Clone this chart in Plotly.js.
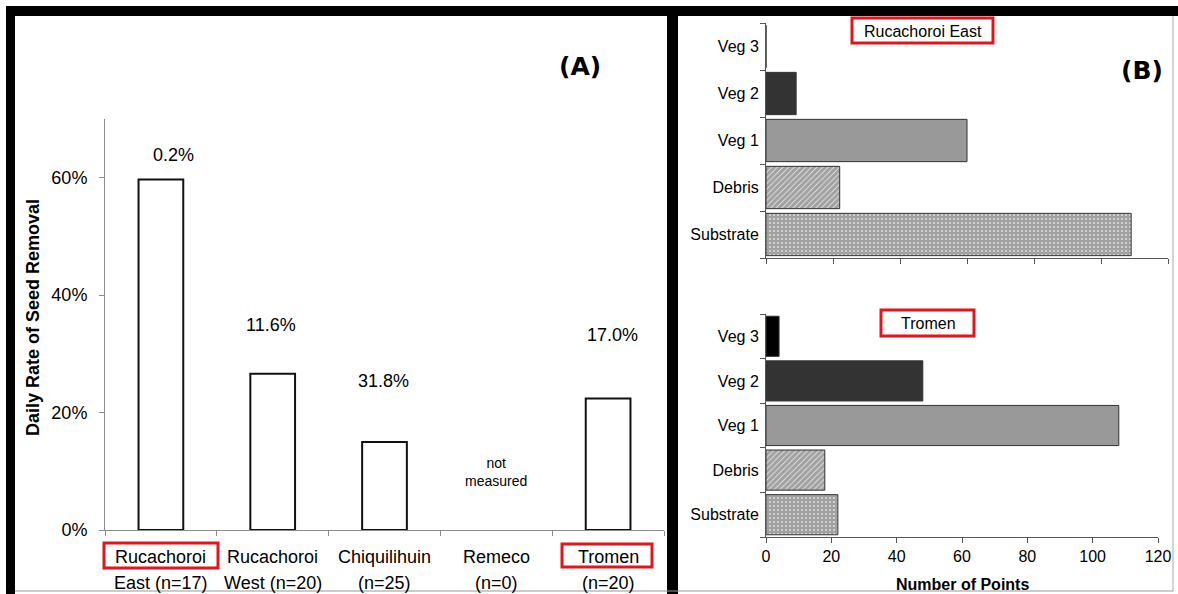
<!DOCTYPE html>
<html>
<head>
<meta charset="utf-8">
<script src="https://cdn.plot.ly/plotly-3.0.1.min.js"></script>
<style>html,body{margin:0;padding:0;background:#fff;}#chart{width:1178px;height:594px;}</style>
</head>
<body>
<div id="chart"></div>
<script>
// ---------- DATA ----------
const siteLine1 = ['Rucachoroi', 'Rucachoroi', 'Chiquilihuin', 'Remeco', 'Tromen'];
const siteLine2 = ['East (n=17)', 'West (n=20)', '(n=25)', '(n=0)', '(n=20)'];
const removalRate = [59.7, 26.6, 15.0, null, 22.4];           // % daily seed removal
const siteNotes = ['0.2%', '11.6%', '31.8%', 'not<br>measured', '17.0%'];
const coverCats = ['Substrate', 'Debris', 'Veg 1', 'Veg 2', 'Veg 3'];
const pointsRucEast = [109, 22, 60, 9, 0];
const pointsTromen = [22, 18, 108, 48, 4];
const yTicksA = [0, 20, 40, 60];
const yTickLabelsA = ['0%', '20%', '40%', '60%'];
const xTicksB = [0, 20, 40, 60, 80, 100, 120];
const panelTitles = ['Rucachoroi East', 'Tromen'];
const panelLetters = ['(A)', '(B)'];

// ---------- LAYOUT HELPERS ----------
const W = 1178, H = 594;
const px = x => x / W;
const py = y => 1 - y / H;
const FONT = 'Liberation Sans, Arial, sans-serif';
const siteCats = siteLine1.map((s, i) => s + ' ' + siteLine2[i]);

// note positions (pixel y) and small horizontal shifts
const notePosY = [155, 325, 381, 472, 335];
const noteShiftX = [13, -2, -1, 0, 4];

const coverColors = ['#ffffff', '#ffffff', '#999999', '#333333', '#000000'];
const coverShapes = ['+', '/', '', '', ''];

const patternB = {shape: coverShapes, fgcolor: '#000000', bgcolor: '#ffffff', size: 4,
  solidity: [0.9, 0.85, 0.3, 0.3, 0.3], fillmode: 'overlay'};

const traces = [
  {
    type: 'bar', x: siteCats, y: removalRate, xaxis: 'x', yaxis: 'y',
    marker: {color: '#ffffff', line: {color: '#111111', width: 2}},
    hoverinfo: 'skip', showlegend: false
  },
  {
    type: 'bar', orientation: 'h', y: coverCats, x: pointsRucEast, xaxis: 'x2', yaxis: 'y2', width: 0.9,
    marker: {color: coverColors, line: {color: '#333333', width: 1}, pattern: patternB},
    hoverinfo: 'skip', showlegend: false
  },
  {
    type: 'bar', orientation: 'h', y: coverCats, x: pointsTromen, xaxis: 'x3', yaxis: 'y3', width: 0.9,
    marker: {color: coverColors, line: {color: '#333333', width: 1}, pattern: patternB},
    hoverinfo: 'skip', showlegend: false
  }
];

const annotations = [];
siteCats.forEach((c, i) => {
  annotations.push({xref: 'x', yref: 'paper', x: c, y: py(557), text: siteLine1[i], showarrow: false,
    font: {family: FONT, size: 18, color: '#000'}, xanchor: 'center', yanchor: 'middle'});
  annotations.push({xref: 'x', yref: 'paper', x: c, y: py(583), text: siteLine2[i], showarrow: false,
    font: {family: FONT, size: 18, color: '#000'}, xanchor: 'center', yanchor: 'middle'});
  const small = siteNotes[i].indexOf('<br>') >= 0;
  annotations.push({xref: 'x', yref: 'paper', x: c, y: py(notePosY[i]), xshift: noteShiftX[i], text: siteNotes[i], showarrow: false,
    font: {family: FONT, size: small ? 14 : 18, color: '#000'}, xanchor: 'center', yanchor: 'middle'});
});
annotations.push({xref: 'paper', yref: 'paper', x: px(33), y: py(318), text: '<b>Daily Rate of Seed Removal</b>', textangle: -90,
  showarrow: false, font: {family: FONT, size: 18, color: '#000'}, xanchor: 'center', yanchor: 'middle'});
annotations.push({xref: 'paper', yref: 'paper', x: px(580), y: py(67), text: '<b>' + panelLetters[0] + '</b>', showarrow: false,
  font: {family: 'DejaVu Sans, sans-serif', size: 25, color: '#000'}, xanchor: 'center', yanchor: 'middle'});
annotations.push({xref: 'paper', yref: 'paper', x: px(1142), y: py(70), text: '<b>' + panelLetters[1] + '</b>', showarrow: false,
  font: {family: 'DejaVu Sans, sans-serif', size: 25, color: '#000'}, xanchor: 'center', yanchor: 'middle'});
annotations.push({xref: 'paper', yref: 'paper', x: px(923), y: py(31), text: panelTitles[0], showarrow: false,
  font: {family: FONT, size: 16, color: '#000'}, xanchor: 'center', yanchor: 'middle'});
annotations.push({xref: 'paper', yref: 'paper', x: px(928), y: py(323), text: panelTitles[1], showarrow: false,
  font: {family: FONT, size: 16, color: '#000'}, xanchor: 'center', yanchor: 'middle'});
annotations.push({xref: 'paper', yref: 'paper', x: px(962), y: py(584), text: '<b>Number of Points</b>', showarrow: false,
  font: {family: FONT, size: 16, color: '#000'}, xanchor: 'center', yanchor: 'middle'});

const rect = (x0, y0, x1, y1, fill, line, lw) => ({type: 'rect', xref: 'paper', yref: 'paper',
  x0: px(x0), x1: px(x1), y0: py(y1), y1: py(y0), fillcolor: fill, line: {color: line, width: lw}, layer: 'above'});
const RED = '#e3141c';
const shapes = [
  rect(6, 6, 1178, 16, '#000', '#000', 0),
  rect(6, 6, 15, 594, '#000', '#000', 0),
  rect(667, 6, 678, 594, '#000', '#000', 0),
  {type: 'line', xref: 'paper', yref: 'paper', x0: px(1173), x1: px(1173), y0: py(16), y1: py(591), line: {color: '#aaa', width: 1}},
  {type: 'line', xref: 'paper', yref: 'paper', x0: px(15), x1: px(1173), y0: py(591), y1: py(591), line: {color: '#999', width: 1}},
  rect(104, 543, 218, 568, 'rgba(0,0,0,0)', RED, 3),
  rect(562, 544, 652, 567, 'rgba(0,0,0,0)', RED, 3),
  rect(852, 18, 993, 43, 'rgba(0,0,0,0)', RED, 3),
  rect(881, 310, 974, 336, 'rgba(0,0,0,0)', RED, 3)
];

const catAxisRight = {
  type: 'category', range: [-0.5, 4.5], showline: true, linecolor: '#555', linewidth: 1,
  ticks: 'outside', tickson: 'boundaries', ticklen: 5, tickcolor: '#555', showgrid: false, zeroline: false,
  tickfont: {family: FONT, size: 16, color: '#000'}, ticklabelstandoff: 3, automargin: false, fixedrange: true
};
const numAxisRight = {
  range: [0, 120], tickvals: xTicksB, showline: true, linecolor: '#555', linewidth: 1,
  ticks: 'outside', ticklen: 5, tickcolor: '#555', showgrid: false, zeroline: false,
  tickfont: {family: FONT, size: 16, color: '#000'}, automargin: false, fixedrange: true
};

const layout = {
  width: W, height: H,
  margin: {l: 0, r: 0, t: 0, b: 0, pad: 0},
  paper_bgcolor: '#fff', plot_bgcolor: 'rgba(0,0,0,0)',
  showlegend: false,
  bargap: 0.6,
  xaxis: {
    domain: [px(105), px(664)], type: 'category', range: [-0.5, 4.5], anchor: 'y',
    showline: true, linecolor: '#8c8c8c', linewidth: 1, ticks: 'outside', tickson: 'boundaries',
    ticklen: 5, tickcolor: '#8c8c8c', showticklabels: false, showgrid: false, zeroline: false, fixedrange: true
  },
  yaxis: {
    domain: [py(530), py(119)], range: [0, 70], tickvals: yTicksA, ticktext: yTickLabelsA, anchor: 'x',
    showline: true, linecolor: '#8c8c8c', linewidth: 1, ticks: 'outside', ticklen: 5, tickcolor: '#8c8c8c',
    showgrid: false, zeroline: false, tickfont: {family: FONT, size: 18, color: '#000'},
    ticklabelstandoff: 8, automargin: false, fixedrange: true
  },
  xaxis2: Object.assign({}, numAxisRight, {domain: [px(766), px(1168)], anchor: 'y2', showticklabels: false}),
  yaxis2: Object.assign({}, catAxisRight, {domain: [py(258), py(23)], anchor: 'x2'}),
  xaxis3: Object.assign({}, numAxisRight, {domain: [px(766), px(1158)], anchor: 'y3'}),
  yaxis3: Object.assign({}, catAxisRight, {domain: [py(537), py(314)], anchor: 'x3'}),
  annotations: annotations,
  shapes: shapes
};

Plotly.newPlot('chart', traces, layout, {staticPlot: true, displayModeBar: false});
</script>
</body>
</html>
